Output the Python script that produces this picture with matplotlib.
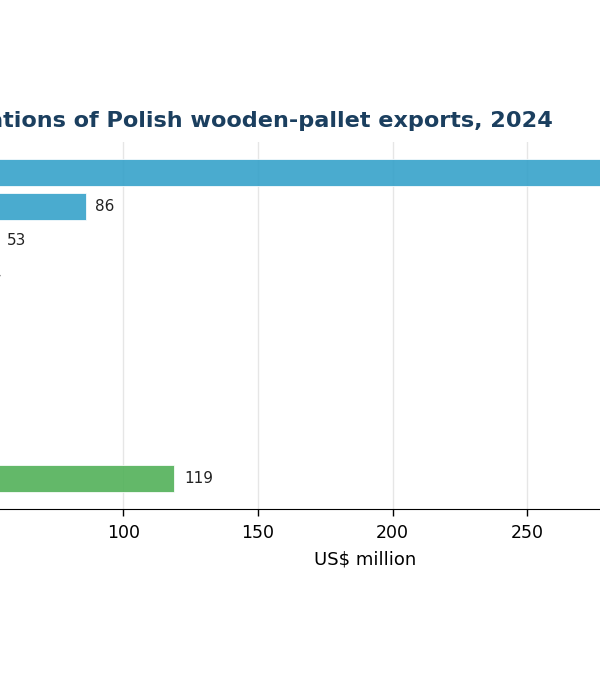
import matplotlib
matplotlib.use("Agg")
import matplotlib.pyplot as plt

# destinations, sorted by value (last one is the "other" group)
countries = ["Germany", "France", "Netherlands", "Czechia", "Italy",
             "Belgium", "United Kingdom", "Sweden", "Austria", "Other"]
values = [330, 86, 53, 44, 43, 38, 33, 29, 26, 119]
bar_colors = ["#36a2ca"] * 9 + ["#52b159"]

title = "Top destinations of Polish wooden-pallet exports, 2024"
xlabel = "US$ million"
xticks = [0, 50, 100, 150, 200, 250, 300, 350]

fig = plt.figure(figsize=(6, 6.8), dpi=100)
# the axes run past the figure edges on both sides
ax = fig.add_axes([-146 / 600, 171 / 680, 1022 / 600, 367 / 680])

y = list(range(len(countries)))
ax.barh(y, values, height=0.8, color=bar_colors, alpha=0.9,
        edgecolor="white", linewidth=0.6, zorder=2)
ax.invert_yaxis()
ax.set_yticks(y)
ax.set_yticklabels(countries, fontsize=12)

# value labels at the end of each bar
for yi, v in zip(y, values):
    ax.annotate(str(v), xy=(v, yi), xytext=(7, 0), textcoords="offset points",
                va="center", ha="left", fontsize=11, color="#222222")

ax.set_xlim(0, max(values) * 1.15)
ax.set_xticks(xticks)
ax.tick_params(axis="x", labelsize=12.5, length=5, width=1, pad=6)
ax.set_xlabel(xlabel, fontsize=13, labelpad=6)

ax.grid(axis="x", color="#e6e6e6", linewidth=1, zorder=0)
ax.set_axisbelow(True)
for side in ["top", "right", "left"]:
    ax.spines[side].set_visible(False)

fig.text(553 / 600, 553 / 680, title, ha="right", va="baseline",
         fontsize=16.15, fontweight="bold", color="#1b3f5f")

fig.savefig("out.png", dpi=100)
